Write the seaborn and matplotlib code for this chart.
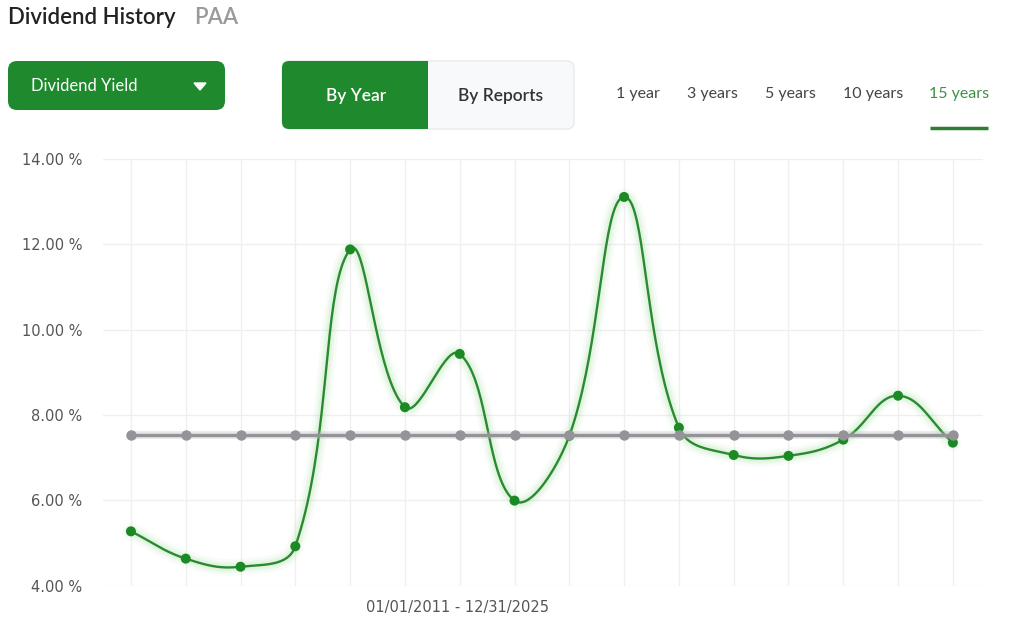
import numpy as np
import matplotlib
matplotlib.use("Agg")
import matplotlib.pyplot as plt
import seaborn as sns
from matplotlib.patches import FancyBboxPatch, Rectangle, Polygon

# yearly dividend yield (%), 16 points
periods = np.arange(16)
yield_pct = [5.27, 4.63, 4.44, 4.92, 11.88, 8.18, 9.43, 5.99,
             7.51, 13.11, 7.70, 7.06, 7.04, 7.42, 8.45, 7.35]
avg_line = [float(np.mean(yield_pct))] * len(periods)

y_ticks = [4, 6, 8, 10, 12, 14]
date_range = "01/01/2011 - 12/31/2025"
tabs = ["1 year", "3 years", "5 years", "10 years", "15 years"]

GREEN = "#1f8a2d"
LINE_GREEN = "#2b8a30"
GREY = "#939398"


def smooth_path(x, y, sx, sy, t=0.4, n=40):
    # chart.js style spline, control points computed in pixel space
    pts = np.column_stack([np.asarray(x, float) * sx, np.asarray(y, float) * sy])
    m = len(pts)
    cp_prev = np.zeros_like(pts)
    cp_next = np.zeros_like(pts)
    for i in range(m):
        prev, cur, nxt = pts[max(i - 1, 0)], pts[i], pts[min(i + 1, m - 1)]
        d01 = np.hypot(*(cur - prev))
        d12 = np.hypot(*(nxt - cur))
        tot = d01 + d12
        s01 = d01 / tot if tot else 0
        s12 = d12 / tot if tot else 0
        cp_prev[i] = cur - t * s01 * (nxt - prev)
        cp_next[i] = cur + t * s12 * (nxt - prev)
    u = np.linspace(0, 1, n)[:, None]
    segs = []
    for i in range(m - 1):
        p0, p1, p2, p3 = pts[i], cp_next[i], cp_prev[i + 1], pts[i + 1]
        seg = (1 - u) ** 3 * p0 + 3 * (1 - u) ** 2 * u * p1 + 3 * (1 - u) * u ** 2 * p2 + u ** 3 * p3
        segs.append(seg if i == 0 else seg[1:])
    out = np.vstack(segs)
    return out[:, 0] / sx, out[:, 1] / sy


sns.set_style("white")
plt.rcParams["font.family"] = ["Lato", "DejaVu Sans"]

fig = plt.figure(figsize=(10.24, 6.19), dpi=100)

# header widgets drawn in pixel coordinates
ui = fig.add_axes([0, 0, 1, 1], zorder=0)
ui.set_xlim(0, 1024)
ui.set_ylim(619, 0)
ui.axis("off")

ui.text(8, 18, "Dividend History", fontsize=16, color="#222222", weight="semibold", va="center")
ui.text(194, 18, "PAA", fontsize=16, color="#9a9a9a", weight="semibold", va="center")

ui.add_patch(FancyBboxPatch((8, 61), 217, 49, boxstyle="round,pad=0,rounding_size=9",
                            facecolor=GREEN, edgecolor="none"))
ui.text(31, 86, "Dividend Yield", fontsize=12, color="white", va="center")
ui.add_patch(Polygon([(194, 83), (206, 83), (200, 90)], closed=True, facecolor="white"))

ui.add_patch(FancyBboxPatch((282, 61), 292, 68, boxstyle="round,pad=0,rounding_size=7",
                            facecolor="#f7f9fb", edgecolor="#e8ebef", lw=1))
ui.add_patch(FancyBboxPatch((282, 61), 146, 68, boxstyle="round,pad=0,rounding_size=7",
                            facecolor=GREEN, edgecolor="none"))
ui.add_patch(Rectangle((418, 61), 10, 68, facecolor=GREEN, edgecolor="none"))
ui.text(356, 96, "By Year", fontsize=12.5, color="white", ha="center", va="center", weight="semibold")
ui.text(501, 96, "By Reports", fontsize=12.5, color="#333333", ha="center", va="center", weight="semibold")

tab_x = [638, 712, 790, 873, 959]
for label, tx in zip(tabs, tab_x):
    col = "#3f9146" if label == "15 years" else "#444444"
    ui.text(tx, 94, label, fontsize=11.5, color=col, ha="center", va="center")
ui.plot([930, 988], [128, 128], color="#2e7d32", lw=2.5, solid_capstyle="butt")

# chart area
ax = fig.add_axes([103 / 1024, 1 - 585.5 / 619, 880 / 1024, 426.5 / 619], zorder=1)
ax.patch.set_alpha(0)

sx, sy = 54.8, 42.65
cx, cy = smooth_path(periods, yield_pct, sx, sy)
for lw, a in [(12, 0.05), (8, 0.07), (5, 0.09)]:
    ax.plot(cx, cy, color="#6fcf6f", lw=lw, alpha=a, solid_capstyle="round", zorder=2)
ax.plot(cx, cy, color=LINE_GREEN, lw=1.7, zorder=3)
sns.scatterplot(x=periods, y=yield_pct, color="#1c8a24", s=52, edgecolor="none",
                ax=ax, zorder=4, legend=False)

ax.plot(periods, avg_line, color="#bbbbbb", lw=5.5, alpha=0.35, zorder=4.5)
sns.lineplot(x=periods, y=avg_line, color=GREY, lw=2.4, marker="o", markersize=7.5,
             markeredgewidth=0, ax=ax, zorder=5, legend=False)

ax.set_xlim(-0.51, 15.55)
ax.set_ylim(4, 14)
ax.set_yticks(y_ticks)
ax.set_yticklabels([f"{v:.2f} %" for v in y_ticks], family=["DejaVu Sans"])
ax.set_xticks(periods)
ax.set_xticklabels([])
ax.tick_params(axis="both", length=0, labelsize=10.5, labelcolor="#555555")
ax.tick_params(axis="y", pad=15)
ax.grid(True, color="#efefef", lw=0.9)
for s in ax.spines.values():
    s.set_visible(False)
ax.set_xlabel("")
ax.set_ylabel("")

ax.text((458 - 103) / 880, -0.035, date_range, transform=ax.transAxes, ha="center", va="top",
        fontsize=10.5, color="#555555", family=["DejaVu Sans"])

fig.savefig("out.png", dpi=100)
